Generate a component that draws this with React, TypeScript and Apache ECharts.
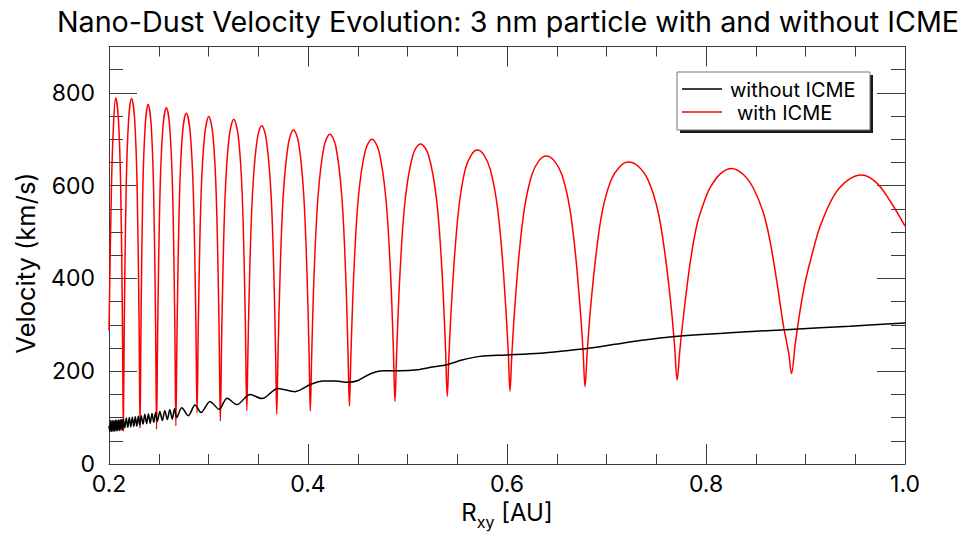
import React, { useEffect, useRef } from "react";
import * as echarts from "echarts";

const FONT = "Inter, 'Liberation Sans', Arial, sans-serif";

const titleText = "Nano-Dust Velocity Evolution: 3 nm particle with and without ICME";
const yAxisTitle = "Velocity (km/s)";
const seriesNames = ["without ICME", "with ICME"];
const xRange = [0.2, 1.0];
const yRange = [0, 900];

// "with ICME" (red) — radial distance [AU]
const withX = [
  0.2000, 0.2025, 0.2045, 0.2067, 0.2094, 0.2117, 0.2135,
  0.2144, 0.2154, 0.2173, 0.2198, 0.2227, 0.2257, 0.2282, 0.2302,
  0.2312, 0.2322, 0.2340, 0.2365, 0.2393, 0.2423, 0.2448, 0.2468,
  0.2478, 0.2490, 0.2513, 0.2542, 0.2577, 0.2610, 0.2639, 0.2661,
  0.2672, 0.2685, 0.2709, 0.2740, 0.2777, 0.2815, 0.2847, 0.2872,
  0.2885, 0.2899, 0.2926, 0.2962, 0.3003, 0.3044, 0.3078, 0.3105,
  0.3119, 0.3135, 0.3166, 0.3207, 0.3254, 0.3300, 0.3339, 0.3369,
  0.3385, 0.3396, 0.3415, 0.3445, 0.3490, 0.3535, 0.3580, 0.3626, 0.3656, 0.3675,
  0.3686, 0.3698, 0.3720, 0.3753, 0.3804, 0.3854, 0.3905, 0.3955, 0.3989, 0.4011,
  0.4023, 0.4037, 0.4062, 0.4102, 0.4161, 0.4220, 0.4279, 0.4338, 0.4377, 0.4402,
  0.4416, 0.4432, 0.4461, 0.4506, 0.4574, 0.4642, 0.4712, 0.4781, 0.4828, 0.4858,
  0.4874, 0.4892, 0.4925, 0.4976, 0.5053, 0.5130, 0.5211, 0.5292, 0.5346, 0.5381,
  0.5400, 0.5415, 0.5436, 0.5475, 0.5520, 0.5580, 0.5640, 0.5700, 0.5766, 0.5832, 0.5898, 0.5948, 0.5990, 0.6014,
  0.6030, 0.6048, 0.6074, 0.6121, 0.6176, 0.6249, 0.6322, 0.6395, 0.6473, 0.6551, 0.6628, 0.6687, 0.6737, 0.6765,
  0.6784, 0.6806, 0.6836, 0.6893, 0.6958, 0.7046, 0.7133, 0.7220, 0.7318, 0.7416, 0.7514, 0.7587, 0.7651, 0.7685,
  0.7710, 0.7737, 0.7773, 0.7839, 0.7906, 0.7973, 0.8040, 0.8141, 0.8258, 0.8375, 0.8475, 0.8576, 0.8643, 0.8710, 0.8777, 0.8830,
  0.8860, 0.8895, 0.8945, 0.9000, 0.9070, 0.9143, 0.9284, 0.9426, 0.9567, 0.9715, 0.9850, 1.0000,
];
// "with ICME" (red) — velocity [km/s]
const withV = [
  288, 600, 730, 789, 746, 602, 308,
  71, 308, 602, 745, 788, 745, 603, 312,
  77, 307, 594, 733, 775, 733, 593, 306,
  75, 304, 588, 726, 768, 727, 590, 308,
  82, 304, 581, 716, 756, 717, 588, 323,
  110, 321, 583, 711, 749, 710, 578, 309,
  92, 307, 574, 704, 743, 705, 580, 322,
  115, 238, 422, 594, 701, 729, 701, 592, 418, 231,
  107, 230, 414, 585, 692, 720, 693, 587, 417, 235,
  114, 233, 413, 580, 684, 711, 685, 582, 418, 242,
  125, 240, 413, 574, 674, 700, 675, 576, 418, 248,
  135, 246, 413, 568, 665, 690, 666, 570, 418, 255,
  146, 226, 321, 454, 560, 635, 666, 677, 667, 635, 563, 459, 329, 235,
  157, 233, 324, 451, 552, 623, 654, 664, 654, 624, 555, 455, 331, 242,
  167, 240, 327, 448, 545, 612, 641, 651, 642, 613, 548, 454, 336, 252,
  181, 245, 318, 431, 513, 560, 595, 625, 637, 624, 595, 542, 481, 396, 300, 240,
  195, 255, 330, 395, 455, 510, 578, 612, 623, 606, 567, 513,
];

// "without ICME" (black) — radial distance [AU]
const withoutX = [
  0.2000, 0.2008, 0.2016, 0.2024, 0.2032, 0.2040, 0.2048, 0.2056, 0.2064, 0.2072,
  0.2080, 0.2088, 0.2096, 0.2104, 0.2112, 0.2120, 0.2128, 0.2136, 0.2144,
  0.2159, 0.2174, 0.2189, 0.2204, 0.2219, 0.2234, 0.2249, 0.2264, 0.2279, 0.2294, 0.2309, 0.2324,
  0.2342, 0.2360, 0.2378, 0.2396, 0.2414, 0.2432, 0.2450, 0.2468, 0.2486,
  0.2511, 0.2536, 0.2561, 0.2586, 0.2611, 0.2636, 0.2658,
  0.2680, 0.2731, 0.2797, 0.2864, 0.2925, 0.3015, 0.3106, 0.3186, 0.3286, 0.3417,
  0.3538, 0.3698, 0.3869, 0.4020, 0.4151, 0.4281, 0.4402, 0.4502, 0.4623, 0.4754,
  0.4925, 0.5095, 0.5246, 0.5397, 0.5548, 0.5729, 0.6000, 0.6332, 0.6583, 0.6804,
  0.7085, 0.7337, 0.7638, 0.8241, 0.8844, 0.9447, 1.0000,
];
// "without ICME" (black) — velocity [km/s]
const withoutV = [
  82, 70, 94, 70, 94, 70, 94, 71, 95, 71,
  95, 72, 95, 72, 96, 73, 96, 74, 97,
  78, 99, 79, 100, 80, 101, 81, 102, 82, 103, 84, 104,
  86, 107, 87, 108, 88, 109, 90, 111, 92,
  113, 94, 115, 96, 117, 97, 119,
  100, 121, 104, 127, 111, 135, 118, 142, 128, 150,
  141, 163, 156, 171, 179, 179, 176, 180, 194, 201,
  201, 203, 209, 214, 224, 232, 235, 239, 244, 249,
  258, 266, 274, 283, 290, 297, 304,
];

const AXIS_COLOR = "#3a3a3a";

function xAxisDef(position: "bottom" | "top", withLabels: boolean) {
  return {
    type: "value",
    position,
    min: xRange[0],
    max: xRange[1],
    interval: 0.2,
    axisLine: { show: true, onZero: false, lineStyle: { color: AXIS_COLOR, width: 1 } },
    axisTick: { show: true, inside: true, length: 20, lineStyle: { color: AXIS_COLOR, width: 1 } },
    minorTick: { show: true, splitNumber: 4, length: 10, lineStyle: { color: AXIS_COLOR, width: 1 } },
    splitLine: { show: false },
    axisLabel: withLabels
      ? {
          show: true,
          margin: 8,
          color: "#000",
          fontFamily: FONT,
          fontSize: 23,
          formatter: (v: number) => v.toFixed(1),
        }
      : { show: false },
    name: withLabels ? "{a|R}{b|xy}{a| [AU]}" : "",
    nameLocation: "middle",
    nameGap: 36,
    nameTextStyle: {
      color: "#000",
      rich: {
        a: { fontFamily: FONT, fontSize: 24, color: "#000", lineHeight: 30, verticalAlign: "top" },
        b: { fontFamily: FONT, fontSize: 16, color: "#000", lineHeight: 12, verticalAlign: "bottom" },
      },
    },
  };
}

function yAxisDef(position: "left" | "right", major: boolean, withLabels: boolean) {
  return {
    type: "value",
    position,
    min: yRange[0],
    max: yRange[1],
    interval: major ? 200 : 50,
    axisLine: { show: major, onZero: false, lineStyle: { color: AXIS_COLOR, width: 1 } },
    axisTick: { show: true, inside: true, length: major ? 28 : 14, lineStyle: { color: AXIS_COLOR, width: 1 } },
    splitLine: { show: false },
    axisLabel: withLabels
      ? {
          show: true,
          margin: 14,
          color: "#000",
          fontFamily: FONT,
          fontSize: 23,
          formatter: (v: number) => (v > 850 ? "" : String(v)),
        }
      : { show: false },
  };
}

export default function App() {
  const ref = useRef<HTMLDivElement>(null);

  useEffect(() => {
    if (!ref.current) return;
    const chart = echarts.init(ref.current, undefined, { renderer: "svg" });

    const redData = withX.map((x, i) => [x, withV[i]]);
    const blackData = withoutX.map((x, i) => [x, withoutV[i]]);

    const option = {
      animation: false,
      backgroundColor: "#ffffff",
      grid: { left: 109, top: 46.5, width: 796, height: 420, containLabel: false },
      xAxis: [xAxisDef("bottom", true), xAxisDef("top", false)],
      yAxis: [
        yAxisDef("left", true, true),
        yAxisDef("left", false, false),
        yAxisDef("right", true, false),
        yAxisDef("right", false, false),
      ],
      series: [
        {
          type: "line",
          name: seriesNames[1],
          xAxisIndex: 0,
          yAxisIndex: 0,
          data: redData,
          symbol: "none",
          showSymbol: false,
          smooth: 0.35,
          lineStyle: { color: "#ff0000", width: 1.5 },
          z: 2,
        },
        {
          type: "line",
          name: seriesNames[0],
          xAxisIndex: 0,
          yAxisIndex: 0,
          data: blackData,
          symbol: "none",
          showSymbol: false,
          smooth: 0.3,
          lineStyle: { color: "#000000", width: 1.5 },
          z: 3,
        },
      ],
      graphic: [
        {
          type: "text",
          z: 100,
          style: {
            text: titleText,
            x: 508,
            y: 21,
            textAlign: "center",
            textVerticalAlign: "middle",
            fontFamily: FONT,
            fontSize: 28.7,
            fill: "#000",
          },
        },
        {
          type: "text",
          z: 100,
          x: 25,
          y: 263,
          rotation: Math.PI / 2,
          style: {
            text: yAxisTitle,
            x: 0,
            y: 0,
            textAlign: "center",
            textVerticalAlign: "middle",
            fontFamily: FONT,
            fontSize: 25.5,
            fill: "#000",
          },
        },
        {
          type: "rect",
          z: 100,
          shape: { x: 680, y: 75, width: 193, height: 58 },
          style: { fill: "#1a1a1a" },
        },
        {
          type: "rect",
          z: 101,
          shape: { x: 677, y: 72, width: 193, height: 58 },
          style: { fill: "#ffffff", stroke: "#777777", lineWidth: 1 },
        },
        {
          type: "line",
          z: 102,
          shape: { x1: 682, y1: 89, x2: 722, y2: 89 },
          style: { stroke: "#000000", lineWidth: 1.5 },
        },
        {
          type: "line",
          z: 102,
          shape: { x1: 682, y1: 112, x2: 722, y2: 112 },
          style: { stroke: "#ff0000", lineWidth: 1.5 },
        },
        {
          type: "text",
          z: 102,
          style: {
            text: seriesNames[0],
            x: 730,
            y: 90,
            textVerticalAlign: "middle",
            fontFamily: FONT,
            fontSize: 20,
            fill: "#000",
          },
        },
        {
          type: "text",
          z: 102,
          style: {
            text: seriesNames[1],
            x: 737,
            y: 113,
            textVerticalAlign: "middle",
            fontFamily: FONT,
            fontSize: 20,
            fill: "#000",
          },
        },
      ],
    };

    chart.setOption(option as any);
    return () => {
      chart.dispose();
    };
  }, []);

  return (
    <div
      ref={ref}
      style={{ position: "fixed", left: 0, top: 0, width: 963, height: 535, background: "#fff" }}
    />
  );
}
